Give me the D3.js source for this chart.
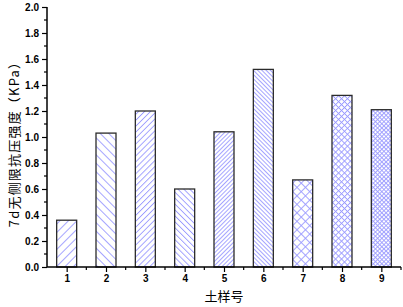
<!DOCTYPE html>
<html>
<head>
<meta charset="utf-8">
<script src="https://cdn.jsdelivr.net/npm/d3@7"></script>
<style>
  body { margin: 0; background: #fff; }
  svg { display: block; }
</style>
</head>
<body>
<svg id="chart" width="403" height="307"></svg>
<script>
// soil sample numbers and 7d unconfined compressive strength
const samples = ["1", "2", "3", "4", "5", "6", "7", "8", "9"];
const strength = [0.36, 1.03, 1.20, 0.60, 1.04, 1.52, 0.67, 1.32, 1.21];
// hatch style for each bar: type and spacing
const hatchType = ["fwd", "back", "fwd", "back", "fwd", "back", "cross", "cross", "cross"];
const hatchGap = [6, 6, 4.2, 4.2, 3, 3, 6, 4.2, 3];
const yTicks = [0, 0.2, 0.4, 0.6, 0.8, 1.0, 1.2, 1.4, 1.6, 1.8, 2.0];

const svg = d3.select("#chart");
const mLeft = 47, mRight = 401, mTop = 7, mBottom = 267;

const x = d3.scaleLinear().domain([0.5, 9.5]).range([mLeft, mRight]);
const y = d3.scaleLinear().domain([0, 2]).range([mBottom, mTop]);

// hatch patterns: vertical / horizontal stripes rotated by 45 degrees
const defs = svg.append("defs");
const hatchColor = "#9b9bff";
hatchType.forEach((t, i) => {
    const g = hatchGap[i];
    const p = defs.append("pattern")
        .attr("id", "hatch" + i)
        .attr("patternUnits", "userSpaceOnUse")
        .attr("width", g).attr("height", g)
        .attr("patternTransform", t === "back" ? "rotate(-45)" : "rotate(45)");
    p.append("rect").attr("width", g).attr("height", g).attr("fill", "#fff");
    p.append("rect").attr("x", 0).attr("y", 0)
        .attr("width", 0.9).attr("height", g).attr("fill", hatchColor);
    if (t === "cross") {
        p.append("rect").attr("x", 0).attr("y", 0)
            .attr("width", g).attr("height", 0.9).attr("fill", hatchColor);
    }
});

// bars
const barW = 20;
svg.append("g")
    .selectAll("rect")
    .data(strength)
    .enter()
    .append("rect")
    .attr("x", (d, i) => x(i + 1) - barW / 2)
    .attr("y", d => y(d))
    .attr("width", barW)
    .attr("height", d => y(0) - y(d))
    .attr("fill", (d, i) => `url(#hatch${i})`)
    .attr("stroke", "#2b2b2b")
    .attr("stroke-width", 1.3);

// y axis
const yAxis = svg.append("g").attr("transform", `translate(${mLeft},0)`);
yAxis.call(d3.axisLeft(y).tickValues(yTicks).tickFormat(d3.format(".1f")).tickSize(5).tickPadding(3));
yAxis.append("g").selectAll("line")
    .data(d3.range(0.1, 2, 0.2))
    .enter().append("line")
    .attr("x1", 0).attr("x2", -3)
    .attr("y1", d => y(d)).attr("y2", d => y(d))
    .attr("stroke", "#000").attr("stroke-width", 1.2);

// x axis
const xAxis = svg.append("g").attr("transform", `translate(0,${mBottom})`);
xAxis.call(d3.axisBottom(x).tickValues(d3.range(1, 10)).tickFormat(d => samples[d - 1]).tickSize(5).tickPadding(3));
xAxis.append("g").selectAll("line")
    .data(d3.range(1.5, 9.6, 1))
    .enter().append("line")
    .attr("y1", 0).attr("y2", 3)
    .attr("x1", d => x(d)).attr("x2", d => x(d))
    .attr("stroke", "#000").attr("stroke-width", 1.2);

svg.selectAll(".domain").attr("stroke", "#000").attr("stroke-width", 1.5);
yAxis.select(".domain").attr("d", `M0,${mBottom}V${mTop}`);
xAxis.select(".domain").attr("d", `M${mLeft},0H${mRight}`);
svg.selectAll(".tick line").attr("stroke", "#000").attr("stroke-width", 1.2);
svg.selectAll(".tick text")
    .attr("font-family", "Liberation Sans, Arial, sans-serif")
    .attr("font-weight", "bold")
    .attr("font-size", 10)
    .attr("fill", "#000");

// axis titles
svg.append("text")
    .attr("transform", `translate(19,${(mTop + mBottom) / 2 + 4}) rotate(-90)`)
    .attr("text-anchor", "middle")
    .attr("font-family", "Noto Sans CJK SC, sans-serif")
    .attr("font-size", 13)
    .attr("letter-spacing", 1.2)
    .attr("fill", "#000")
    .text("7d无侧限抗压强度（KPa）");

svg.append("text")
    .attr("x", (mLeft + mRight) / 2)
    .attr("y", 301)
    .attr("text-anchor", "middle")
    .attr("font-family", "Noto Sans CJK SC, sans-serif")
    .attr("font-size", 13)
    .attr("fill", "#000")
    .text("土样号");
</script>
</body>
</html>
